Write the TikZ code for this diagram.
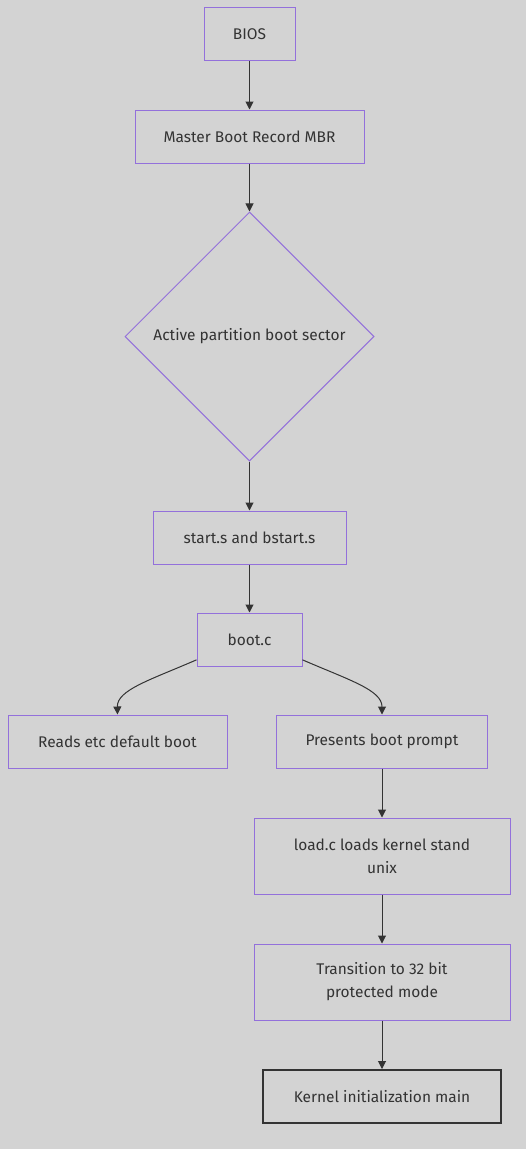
\documentclass[tikz,border=0pt]{standalone}
\usepackage{fontspec}
\setmainfont{Fira Sans}
\usetikzlibrary{shapes.geometric,arrows.meta}
\definecolor{bg}{HTML}{D3D3D3}
\definecolor{nodeborder}{HTML}{9370DB}
\definecolor{ink}{HTML}{333333}
\tikzset{
  box/.style={draw=nodeborder, line width=0.75pt, fill=bg, text=ink, inner sep=0pt,
    minimum height=39.75pt, align=center, font=\fontsize{11.6}{17.25}\selectfont},
  tallbox/.style={box, minimum height=57pt},
  endbox/.style={box, draw=ink, line width=1.5pt},
  decision/.style={diamond, aspect=1, draw=nodeborder, line width=0.75pt, fill=bg, text=ink,
    inner sep=0pt, minimum width=186.75pt, minimum height=186.75pt, font=\fontsize{11.6}{17.25}\selectfont},
  flow/.style={draw=ink, line width=0.75pt, -{Triangle[length=6pt,width=6pt]}}
}
\begin{document}
\begin{tikzpicture}[x=0.75pt,y=-0.75pt]
\fill[bg] (0,0) rectangle (526,1149);
\useasboundingbox (0,0) rectangle (526,1149);
\node[box, minimum width=68.25pt] (bios) at (249.5,34.5) {BIOS};
\node[box, minimum width=171.75pt] (mbr) at (249.5,136.5) {Master Boot Record MBR};
\node[decision] (active) at (249.5,336.5) {Active partition boot sector};
\node[box, minimum width=144.75pt] (start) at (249.5,537.5) {start.s and bstart.s};
\node[box, minimum width=78.75pt] (boot) at (249.5,639.5) {boot.c};
\node[box, minimum width=164.25pt] (reads) at (117.5,741.5) {Reads etc default boot};
\node[box, minimum width=158.25pt] (prompt) at (382,741.5) {Presents boot prompt};
\node[tallbox, minimum width=192pt] (load) at (382,856) {load.c loads kernel stand\\unix};
\node[tallbox, minimum width=192pt] (trans) at (382,982) {Transition to 32 bit\\protected mode};
\node[endbox, minimum width=178.5pt] (kernel) at (382,1096.5) {Kernel initialization main};
\draw[flow] (bios) -- (mbr);
\draw[flow] (mbr) -- (active);
\draw[flow] (active) -- (start);
\draw[flow] (start) -- (boot);
\draw[flow] (boot.201) .. controls (150,680) and (117,690) .. (reads.north);
\draw[flow] (boot.-21) .. controls (349,680) and (382,690) .. (prompt.north);
\draw[flow] (prompt) -- (load);
\draw[flow] (load) -- (trans);
\draw[flow] (trans) -- (kernel);
\end{tikzpicture}
\end{document}
